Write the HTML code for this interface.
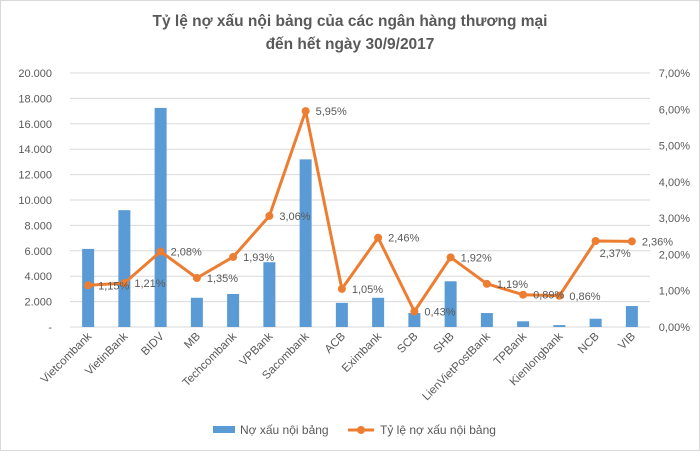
<!DOCTYPE html>
<html><head><meta charset="utf-8"><style>
body{margin:0;background:#fff}
svg text{font-family:"Liberation Sans",Arial,sans-serif;fill:#595959}
</style></head><body>
<svg width="700" height="451">
<rect x="0.5" y="0.5" width="699" height="450" fill="#fff" stroke="#d9d9d9"/>
<text x="350" y="26" text-anchor="middle" font-size="15.5" font-weight="bold">Tỷ lệ nợ xấu nội bảng của các ngân hàng thương mại</text>
<text x="350" y="49" text-anchor="middle" font-size="15.5" font-weight="bold">đến hết ngày 30/9/2017</text>
<g id="grid"></g><g id="bars"></g><g id="line"></g><g id="labels"></g><g id="axes"></g>
<g>
<rect x="213" y="426" width="22" height="7" fill="#5b9bd5"/>
<text x="240" y="434" font-size="12">Nợ xấu nội bảng</text>
<line x1="348" y1="430" x2="374" y2="430" stroke="#ed7d31" stroke-width="3"/>
<circle cx="361" cy="430" r="4" fill="#ed7d31"/>
<text x="380" y="434" font-size="12">Tỷ lệ nợ xấu nội bảng</text>
</g>
</svg>
<script>
const categories=["Vietcombank","VietinBank","BIDV","MB","Techcombank","VPBank","Sacombank","ACB","Eximbank","SCB","SHB","LienVietPostBank","TPBank","Kienlongbank","NCB","VIB"];
const debtValues=[6150,9200,17250,2300,2600,5100,13200,1900,2300,1100,3600,1100,450,150,650,1650];
const rateValues=[1.15,1.21,2.08,1.35,1.93,3.06,5.95,1.05,2.46,0.43,1.92,1.19,0.89,0.86,2.37,2.36];
const leftTicks=[0,2000,4000,6000,8000,10000,12000,14000,16000,18000,20000];
const leftTickLabels=["-","2.000","4.000","6.000","8.000","10.000","12.000","14.000","16.000","18.000","20.000"];
const rightTicks=[0,1,2,3,4,5,6,7];
const rightTickLabels=["0,00%","1,00%","2,00%","3,00%","4,00%","5,00%","6,00%","7,00%"];
const NS="http://www.w3.org/2000/svg";
const X0=70,X1=650,Y0=327,Y1=73;
const bw=(X1-X0)/categories.length;
const xc=i=>X0+bw*(i+0.5);
const yL=v=>Y0-(v/20000)*(Y0-Y1);
const yR=v=>Y0-(v/7)*(Y0-Y1);
function mk(tag,attrs,parent,txt){const e=document.createElementNS(NS,tag);for(const k in attrs)e.setAttribute(k,attrs[k]);if(txt!==undefined)e.textContent=txt;document.getElementById(parent).appendChild(e);return e;}
leftTicks.forEach((t,i)=>{
 const g=mk('line',{x1:X0,x2:X1,y1:yL(t),y2:yL(t),stroke:'#d9d9d9','stroke-width':1},'grid');
 
 
 const l=mk('text',{x:52,y:yL(t)+4,'text-anchor':'end','font-size':11},'axes',leftTickLabels[i]);
 
 
});
rightTicks.forEach((t,i)=>{
 const l=mk('text',{x:690,y:yR(t)+4,'text-anchor':'end','font-size':11},'axes',rightTickLabels[i]);
 
 
});
debtValues.forEach((v,i)=>{
 const r=mk('rect',{x:xc(i)-6,y:yL(v),width:12,height:Y0-yL(v),fill:'#5b9bd5'},'bars');
 
 
 const t=mk('text',{transform:`translate(${xc(i)+4},${Y0+10}) rotate(-45)`,'text-anchor':'end','font-size':11.5},'axes',categories[i]);
 
 
});
const pts=rateValues.map((v,i)=>xc(i)+','+yR(v)).join(' ');
const pl=mk('polyline',{points:pts,fill:'none',stroke:'#ed7d31','stroke-width':3,'stroke-linejoin':'round'},'line');


rateValues.forEach((v,i)=>{
 const c=mk('circle',{cx:xc(i),cy:yR(v),r:4,fill:'#ed7d31'},'line');
 
 
 const below=(categories[i]==="NCB");
 const t=mk('text',{x:below?xc(i)+4:xc(i)+10,y:below?yR(v)+16:yR(v)+4,'font-size':11,fill:'#404040'},'labels',v.toFixed(2).replace('.',',')+'%');
 
 
});
</script>
</body></html>
